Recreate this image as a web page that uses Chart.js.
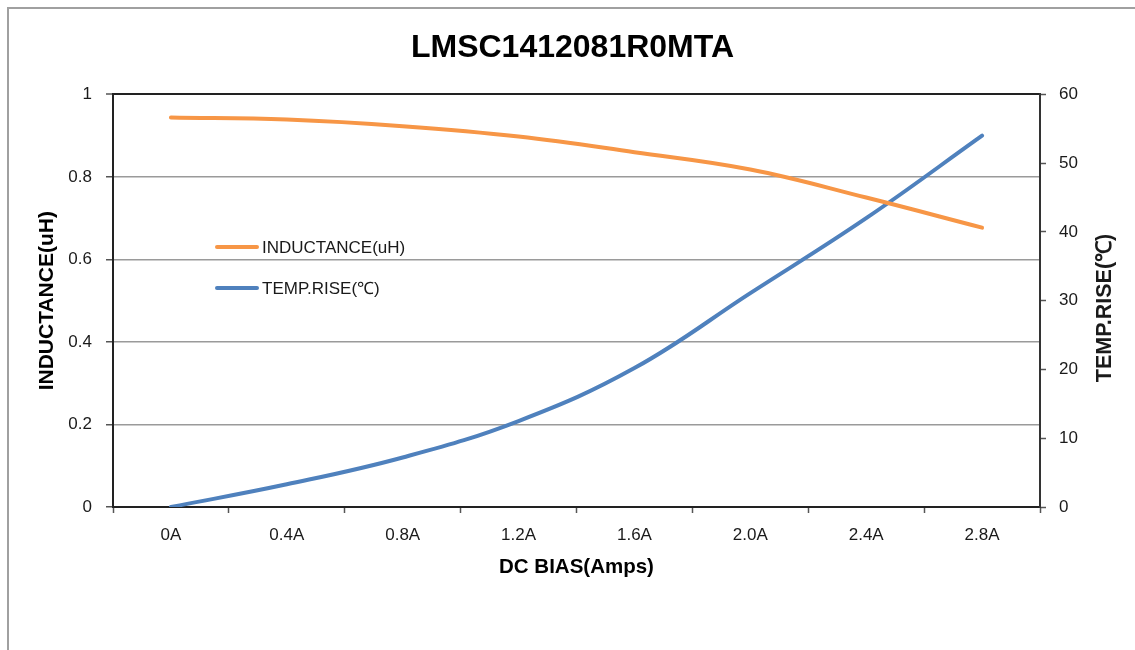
<!DOCTYPE html>
<html>
<head>
<meta charset="utf-8">
<title>LMSC1412081R0MTA</title>
<script src="https://cdn.jsdelivr.net/npm/chart.js@4.4.1/dist/chart.umd.min.js"></script>
<style>
    html, body { margin: 0; padding: 0; background: #fff; }
    #wrap { width: 1135px; height: 650px; }
</style>
</head>
<body>
<div id="wrap"><canvas id="dcChart" width="1135" height="650"></canvas></div>
<script>
const currents = ["0A", "0.4A", "0.8A", "1.2A", "1.6A", "2.0A", "2.4A", "2.8A"];
const inductance = [0.944, 0.939, 0.923, 0.898, 0.86, 0.818, 0.75, 0.677];
const tempRise = [0, 3.3, 7.2, 12.5, 20.2, 31.1, 42, 54];

const ORANGE = "#F79646";
const BLUE = "#4F81BD";
const TEXT = "#1a1a1a";
const SANS = "'Liberation Sans', Arial, sans-serif";

// frame round the whole picture + right axis title (reads bottom to top)
const framePlugin = {
    id: "frame",
    beforeDraw(chart) {
        const c = chart.ctx;
        c.save();
        c.fillStyle = "#fff";
        c.fillRect(0, 0, chart.width, chart.height);
        c.strokeStyle = "#a0a0a0";
        c.lineWidth = 2;
        c.beginPath();
        c.moveTo(8, chart.height);
        c.lineTo(8, 8);
        c.lineTo(chart.width, 8);
        c.stroke();
        c.restore();
    },
    afterDraw(chart) {
        const c = chart.ctx;
        c.save();
        c.translate(1105, 308);
        c.rotate(-Math.PI / 2);
        c.font = "bold 21.5px " + SANS;
        c.fillStyle = TEXT;
        c.textAlign = "center";
        c.textBaseline = "middle";
        c.fillText("TEMP.RISE(℃)", 0, 0);
        c.restore();
    }
};

// legend sits inside the plot, on the left
const innerLegend = {
    id: "innerLegend",
    afterDatasetsDraw(chart) {
        const c = chart.ctx;
        const rows = [247, 288];
        c.save();
        chart.data.datasets.forEach((ds, i) => {
            const y = rows[i];
            c.strokeStyle = ds.borderColor;
            c.lineWidth = 4;
            c.lineCap = "round";
            c.beginPath();
            c.moveTo(217, y);
            c.lineTo(257, y);
            c.stroke();
            c.font = "17px " + SANS;
            c.fillStyle = TEXT;
            c.textAlign = "left";
            c.textBaseline = "middle";
            c.fillText(ds.label, 262, y + 1);
        });
        c.restore();
    }
};

new Chart(document.getElementById("dcChart"), {
    type: "line",
    data: {
        labels: currents,
        datasets: [
            {
                label: "INDUCTANCE(uH)",
                data: inductance,
                yAxisID: "y",
                borderColor: ORANGE,
                backgroundColor: ORANGE,
                borderWidth: 4,
                borderCapStyle: "round",
                pointRadius: 0,
                tension: 0.4
            },
            {
                label: "TEMP.RISE(℃)",
                data: tempRise,
                yAxisID: "y1",
                borderColor: BLUE,
                backgroundColor: BLUE,
                borderWidth: 4,
                borderCapStyle: "round",
                pointRadius: 0,
                tension: 0.4
            }
        ]
    },
    options: {
        responsive: false,
        animation: false,
        layout: { padding: { left: 10, right: 0, top: 8, bottom: 0 } },
        plugins: {
            legend: { display: false },
            tooltip: { enabled: false },
            title: {
                display: true,
                text: "LMSC1412081R0MTA",
                color: "#000",
                font: { family: SANS, size: 32, weight: "bold" },
                padding: { top: 21, bottom: 27 }
            }
        },
        scales: {
            x: {
                offset: true,
                grid: {
                    offset: true,
                    drawOnChartArea: false,
                    drawTicks: true,
                    tickLength: 6,
                    tickColor: "#555",
                    tickWidth: 1.5
                },
                border: { color: "#222", width: 2 },
                ticks: {
                    color: TEXT,
                    padding: 12,
                    maxRotation: 0,
                    font: { family: SANS, size: 17 }
                },
                title: {
                    display: true,
                    text: "DC BIAS(Amps)",
                    color: "#000",
                    font: { family: SANS, size: 20.5, weight: "bold" },
                    padding: { top: 0, bottom: 70 }
                },
                afterFit(scale) { scale.height = 143; }
            },
            y: {
                position: "left",
                min: 0,
                max: 1,
                ticks: {
                    stepSize: 0.2,
                    color: TEXT,
                    padding: 14,
                    font: { family: SANS, size: 17 },
                    callback: v => +v.toFixed(1)
                },
                grid: {
                    color: ctx => ctx.tick && ctx.tick.value === 1 ? "#222" : "#9a9a9a",
                    lineWidth: ctx => ctx.tick && ctx.tick.value === 1 ? 2 : 1.5,
                    tickColor: "#555",
                    tickLength: 7,
                    tickWidth: 1.5
                },
                border: { color: "#222", width: 2 },
                title: {
                    display: true,
                    text: "INDUCTANCE(uH)",
                    color: "#000",
                    font: { family: SANS, size: 21, weight: "bold" },
                    padding: { top: 25, bottom: 0 }
                },
                afterFit(scale) { scale.width = 103; }
            },
            y1: {
                position: "right",
                min: 0,
                max: 60,
                ticks: {
                    stepSize: 10,
                    color: TEXT,
                    padding: 13,
                    font: { family: SANS, size: 17 }
                },
                grid: {
                    drawOnChartArea: false,
                    tickColor: "#555",
                    tickLength: 6,
                    tickWidth: 1.5
                },
                border: { color: "#333", width: 2 },
                afterFit(scale) { scale.width = 95; }
            }
        }
    },
    plugins: [framePlugin, innerLegend]
});
</script>
</body>
</html>
